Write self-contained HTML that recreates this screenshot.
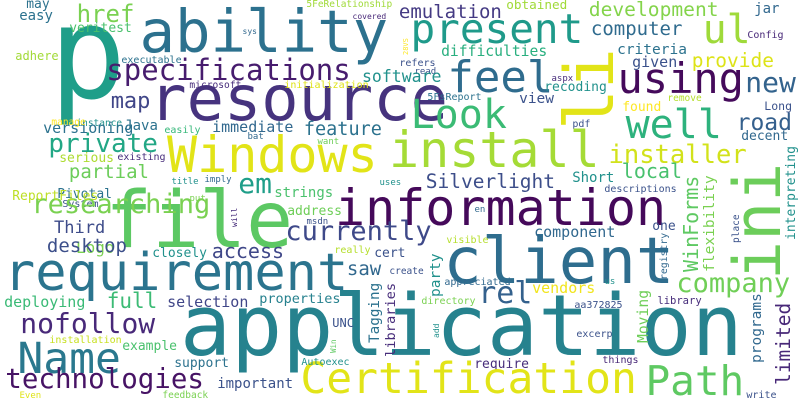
<!DOCTYPE html>
<html><head><meta charset="utf-8"><style>
html,body{margin:0;padding:0;background:#fff;}
svg{display:block;}
text{font-family:"DejaVu Sans Mono","Liberation Mono",monospace;}
</style></head>
<body>
<svg id="cloud" width="800" height="400" viewBox="0 0 800 400" xmlns="http://www.w3.org/2000/svg">
<rect width="800" height="400" fill="#ffffff"/>
</svg>
<script>
const words = ["p","ability","resource","specifications","href","may","easy","veritest","5FeRelationship","covered","sys","executable","map","microsoft","initialization","instance","Java","immediate","easily","feature","bat","private","want","Windows","serious","existing","partial","em","Pivotal","title","imply","strings","uses","put",
"emulation","obtained","development","jar","present","ul","computer","Config","difficulties","criteria","provide","feel","given","using","new","refers","read","software","aspx","recoding","5FsReport","view","Look","remove","Long","found","well","pdf","road","decent","install","installer","Silverlight","local","Short","descriptions",
"information","client","en","component","one","visible","company","appreciated","us","vendors","rel","directory","aa372825","library","excerpt","application","require","things","Certification","Path","write",
"file","System","address","msdn","Third","currently","Logo","closely","access","really","cert","requirement","saw","create","deploying","full","selection","properties","nofollow","UNC","installation","example","Name","support","Autoexec","technologies","important","Even","feedback",
"adhere","researching","versioning","desktop","ReportFiles","manage","28VS","WinForms","flexibility","interpreting","place","registry","party","Moving","programs","limited","add","Tagging","libraries","Win","will","li","ini"];
const sizes = [128,59,62,29,24,13,14,13,9.5,8,8,10,22,9.6,10,9.5,14,15,10,18.5,9,26,9,50,13,10,19,28,13,9,9,14,9,9,
19,12.7,19.6,14,41,40,19,10,14.7,14.5,19.5,44,15,42,28,10,9,16.5,9,13,10,14.5,40,9.5,11.5,13,40,10,23,13,50,25.5,19.5,20,14,10,
50,64,9,15,13,10,27,10,9,15,30,10,10,10.5,10,85,13,10,43,41,10,
78,10,13,9,17,27,16,13,20,10,13,52,19,9.5,15,21,15,13.5,28,12,10,13,43,13,10,27.5,14,9,9.5,
12,27,15,19,13,9.5,7,20,14.6,13,9.5,9.8,14.5,14.7,14.5,19.5,8,14.3,13.7,7.5,8,68,65];
const xs = [57,143,153,108,78,27,20,70,307,353,243,122,112,190,285,77,125,213,165,305,248,50,318,170,60,118,70,240,58,172,205,275,380,190,
400,507,590,755,413,705,592,748,442,618,693,450,633,620,747,400,415,363,552,545,428,520,413,668,765,623,628,573,738,742,392,610,427,623,573,605,
338,447,475,535,653,447,678,445,605,533,480,422,575,658,577,185,475,603,303,648,747,
110,63,288,307,55,287,77,153,213,335,375,7,348,390,5,108,168,260,22,333,50,123,20,175,302,7,218,20,163,
16,33,44,48,13,52,408,698,714,795,739,667,440,648,761,790,439,379,395,336,237,613,780];
const ys = [98,52,120,80,22,8,20,32,7,19,34,63,108,88,88,126,130,132,133,135,139,152,144,172,162,160,178,193,198,184,182,197,185,201,
18,9,16,13,43,43,35,38,56,54,67,92,67,93,92,66,74,82,81,91,100,103,128,101,110,111,138,127,130,140,167,163,188,178,182,192,
225,283,212,237,230,243,292,285,284,293,303,304,308,304,337,355,368,363,393,395,398,
247,207,215,224,233,240,253,257,258,253,257,290,275,274,307,308,307,303,333,327,343,350,373,367,365,388,388,398,398,
60,213,133,252,200,125,55,272,272,240,243,280,297,343,363,385,338,343,357,353,227,130,280];
const colors = ["#1f9e89","#2c718e","#46337e","#471c6e","#7ad151","#2c728e","#2c728e","#4ac16d","#a0da39","#482878","#31688e","#2c728e","#404688","#472d7b","#dfe318","#21918c","#2c728e","#31688e","#35b779","#2c728e","#31688e","#22a785","#6ece58","#e2e418","#addc30","#472d7b","#6ccd5a","#1f9e89","#2c728e","#21918c","#31688e","#4ac16d","#21918c","#7ad151",
"#443a83","#a0da39","#84d44b","#31688e","#1f9a8a","#9fda3a","#2f6b8e","#482878","#29af7f","#2c728e","#dde318","#2f6c8e","#3b528b","#450a5b","#33638d","#3b528b","#3b528b","#21918c","#472d7b","#21918c","#2c728e","#3b528b","#3bbb75","#b5de2b","#3b528b","#fde725","#2db27d","#3b528b","#35608d","#31688e","#a5db36","#d2e21b","#3d4e8a","#48c16e","#21918c","#3b528b",
"#45095a","#2e6d8e","#31688e","#31688e","#3b528b","#b5de2b","#70cf57","#31688e","#21918c","#f1e51d","#34618d","#7ad151","#3b528b","#472d7b","#3b528b","#26828e","#472d7b","#482878","#e2e418","#5ec962","#3b528b",
"#5cc863","#3b528b","#6ece58","#3b528b","#3e4c8a","#3e4989","#7ad151","#21918c","#3f4788","#b5de2b","#3b528b","#2b748e","#31688e","#3b528b","#3aba76","#3cbb75","#404688","#26818e","#482979","#3b528b","#c8e020","#4ac16d","#2a788e","#2c728e","#21918c","#471365","#3b528b","#dfe318","#7ad151",
"#a2da37","#7ad151","#2c728e","#3c4f8a","#bddf26","#fde725","#fde725","#5ec962","#7ad151","#21918c","#3b528b","#31688e","#21918c","#6ece58","#31688e","#482878","#21918c","#2c728e","#472d7b","#5ec962","#472d7b","#e2e418","#6ccd5a"];
const rotated = [];
for (let i = 0; i < words.length; i++) rotated.push(i >= 126 ? 1 : 0);

const svg = document.getElementById('cloud');
const NS = 'http://www.w3.org/2000/svg';
for (let i = 0; i < words.length; i++) {
  const t = document.createElementNS(NS, 'text');
  
  
  const fs = sizes[i];
  t.setAttribute('font-size', fs);
  t.setAttribute('fill', colors[i]);
  if (rotated[i]) {
    t.setAttribute('transform', 'translate(' + xs[i] + ',' + ys[i] + ') rotate(-90)');
    t.setAttribute('x', 0);
    t.setAttribute('y', 0);
  } else {
    t.setAttribute('x', (xs[i] - 0.06 * fs).toFixed(1));
    t.setAttribute('y', ys[i]);
  }
  t.textContent = words[i];
  svg.appendChild(t);
}
</script>
</body></html>
